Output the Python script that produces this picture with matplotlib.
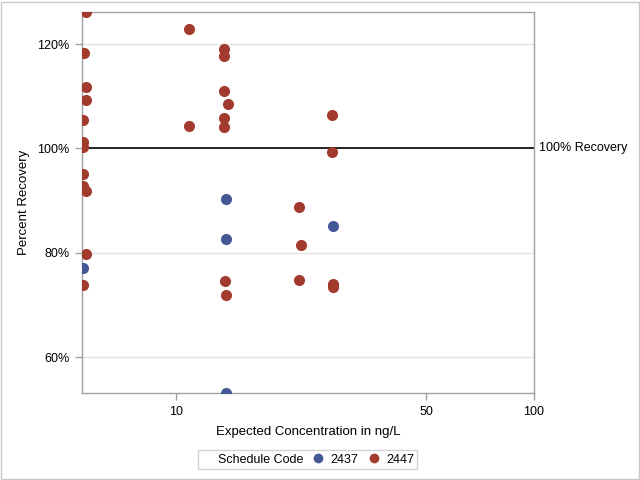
import matplotlib
matplotlib.use("Agg")
import matplotlib.pyplot as plt
from matplotlib.lines import Line2D
from matplotlib.patches import Rectangle
from matplotlib.ticker import FixedLocator, NullLocator, FuncFormatter

plt.rcParams['font.family'] = ['Liberation Sans', 'DejaVu Sans']

# ---------- data ----------
x_2447 = [5.6, 5.53, 5.6, 5.6, 5.5, 5.5, 5.5, 5.5, 5.5, 5.6, 5.6, 5.5,
          10.9, 10.9,
          13.6, 13.6, 13.6, 14.0, 13.6, 13.6, 13.7, 13.8,
          22.1, 22.3, 22.1,
          27.3, 27.3, 27.4, 27.4]
y_2447 = [126.1, 118.2, 111.8, 109.2, 105.4, 101.2, 100.25, 95.2, 92.9, 91.9, 79.7, 73.8,
          122.9, 104.3,
          119.1, 117.8, 111.1, 108.6, 105.9, 104.2, 74.7, 71.9,
          88.8, 81.6, 74.9,
          106.4, 99.4, 74.1, 73.5]

x_2437 = [5.5, 13.8, 13.8, 13.8, 27.5]
y_2437 = [77.2, 90.4, 82.7, 53.2, 85.2]

series = [("2437", x_2437, y_2437, "#445694"),
          ("2447", x_2447, y_2447, "#A23A2E")]

x_ticks = [10, 50, 100]
y_ticks = [60, 80, 100, 120]

# ---------- chart ----------
fig = plt.figure(figsize=(6.4, 4.8), dpi=100)
ax = fig.add_axes([0.128, 0.1806, 0.706, 0.7950])

for name, xs, ys, col in series:
    ax.plot(xs, ys, linestyle='none', marker='o', markersize=8,
            color=col, markeredgewidth=0, zorder=3)

ax.axhline(100, color='black', linewidth=1.2, zorder=2)
ax.text(1.012, 100, "100% Recovery", transform=ax.get_yaxis_transform(),
        ha='left', va='center', fontsize=9)

ax.set_xscale('log')
ax.set_xlim(5.46, 100)
ax.set_ylim(53.1, 126.2)
ax.xaxis.set_major_locator(FixedLocator(x_ticks))
ax.xaxis.set_minor_locator(NullLocator())
ax.xaxis.set_major_formatter(FuncFormatter(lambda v, p: f"{v:g}"))
ax.yaxis.set_major_locator(FixedLocator(y_ticks))
ax.yaxis.set_major_formatter(FuncFormatter(lambda v, p: f"{v:.0f}%"))

ax.grid(axis='y', color='#E3E3E3', linewidth=1, zorder=0)
ax.set_axisbelow(True)
for s in ax.spines.values():
    s.set_color('#A0A0A0')
    s.set_linewidth(1)
ax.tick_params(axis='both', colors='#A0A0A0', labelcolor='black',
               labelsize=9, length=5, width=1, direction='out', pad=4)

ax.set_xlabel("Expected Concentration in ng/L", fontsize=9.5, labelpad=6)
ax.set_ylabel("Percent Recovery", fontsize=9.5, labelpad=5)

handles = [Line2D([], [], linestyle='none', marker='')]
labels = ["Schedule Code"]
for name, xs, ys, col in series:
    handles.append(Line2D([], [], linestyle='none', marker='o', markersize=7,
                          color=col, markeredgewidth=0))
    labels.append(name)
leg = fig.legend(handles, labels, ncol=3, loc='center',
                 bbox_to_anchor=(0.481, 0.0427), fontsize=9, frameon=True,
                 fancybox=False, edgecolor='#C8C8C8', handlelength=0.6,
                 handletextpad=0.7, columnspacing=0.9, borderpad=0.25,
                 borderaxespad=0)
leg.get_frame().set_linewidth(1)

# outer border round the whole graph
fig.patches.append(Rectangle((0.001, 0.003), 0.997, 0.993, transform=fig.transFigure,
                             fill=False, edgecolor='#C8C8C8', linewidth=1))

fig.savefig("out.png", dpi=100)
